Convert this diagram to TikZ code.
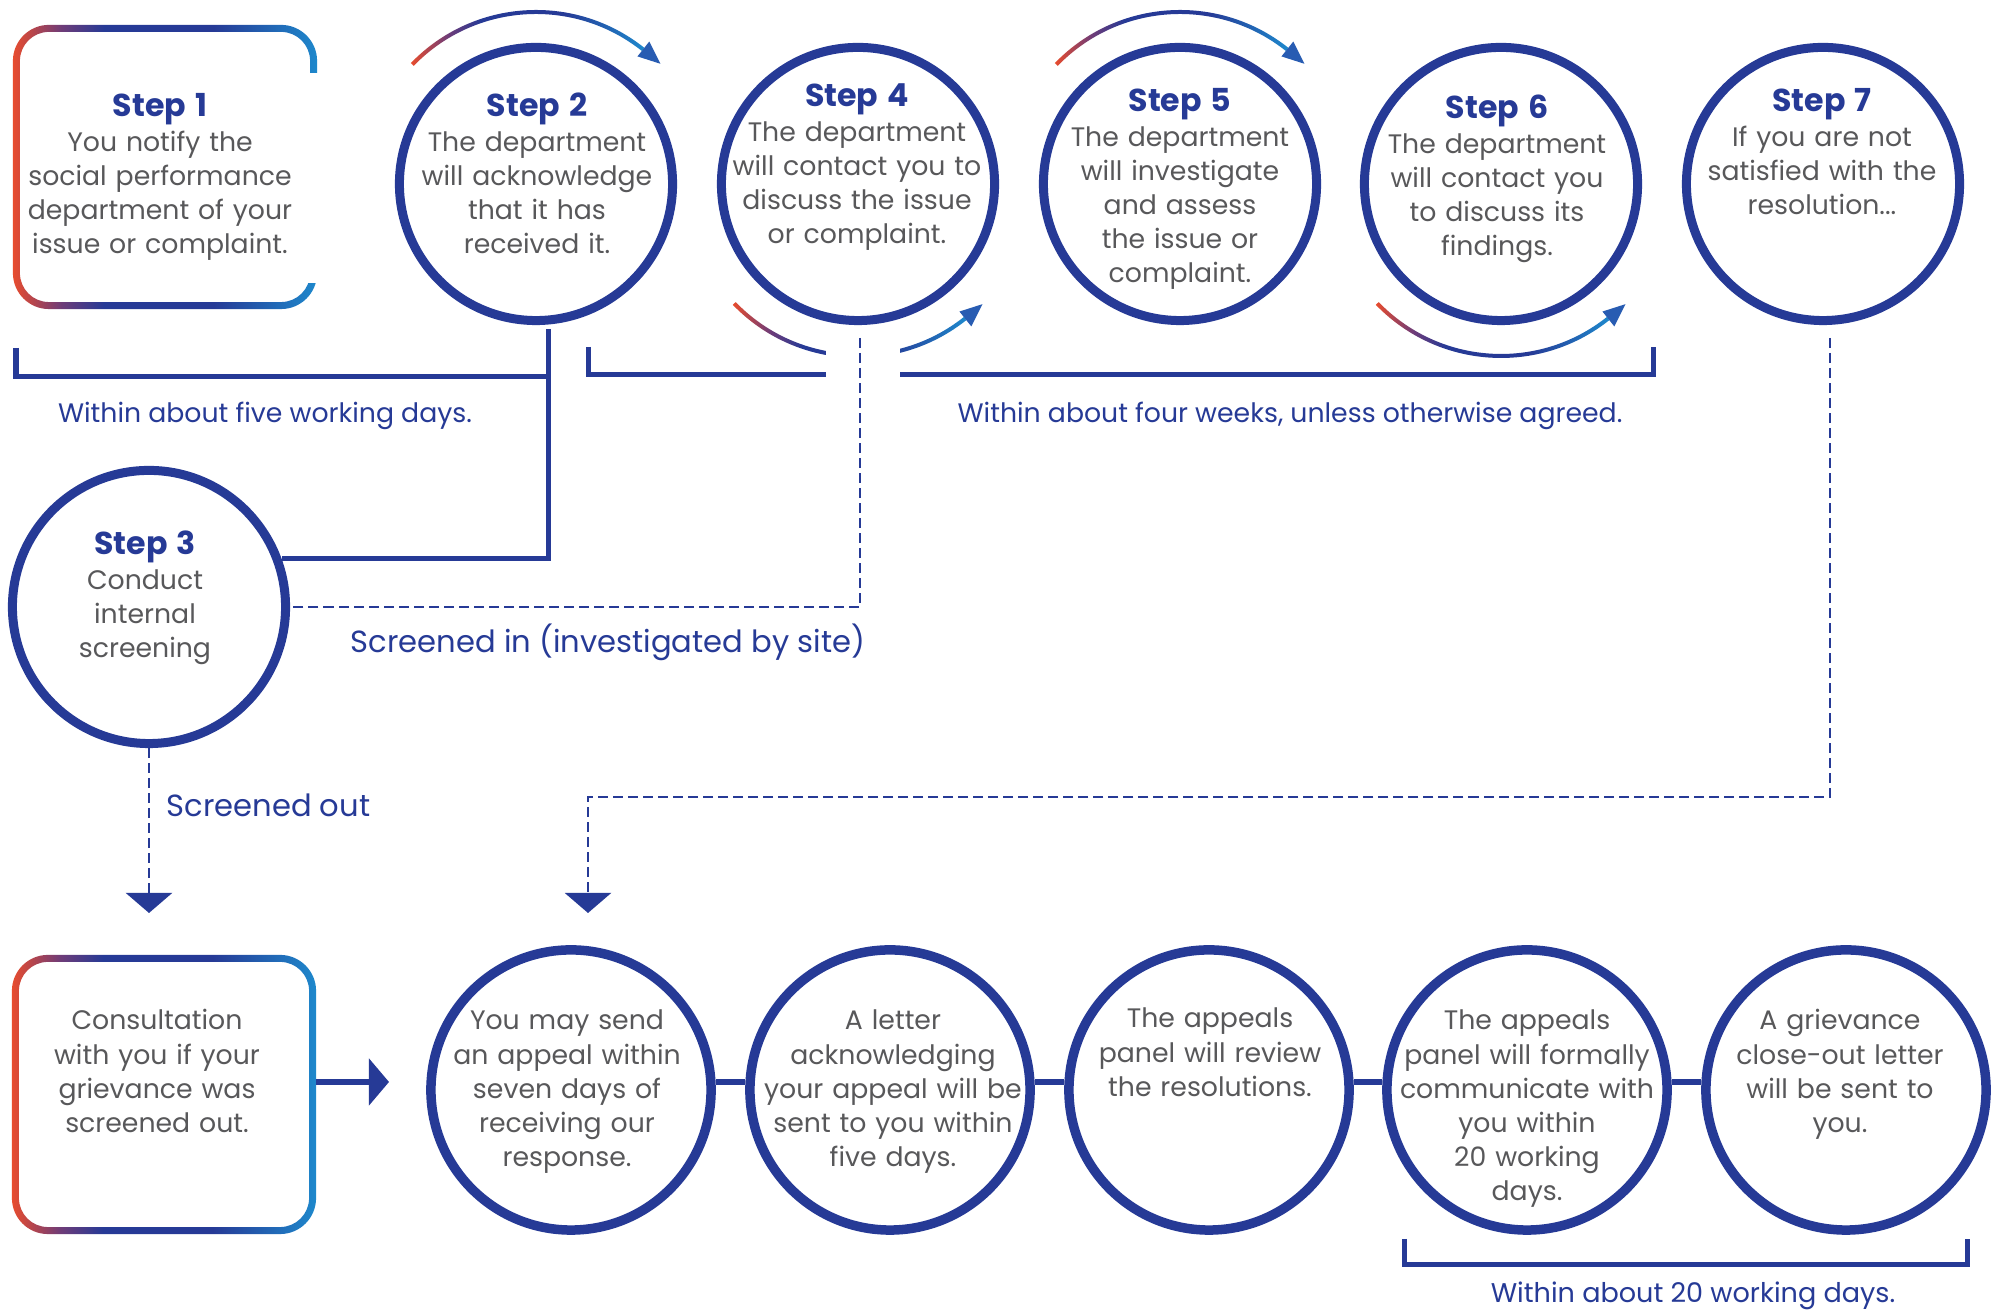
\documentclass[tikz,border=0pt]{standalone}
\usepackage{fontspec}
\setmainfont{Poppins}
\usetikzlibrary{calc}
\usetikzlibrary{arrows.meta}

\definecolor{navy}{RGB}{38,58,150}
\definecolor{txtgrey}{RGB}{88,88,90}
\definecolor{gred}{RGB}{232,76,46}
\definecolor{gpurple}{RGB}{110,60,120}
\definecolor{gblue}{RGB}{30,136,204}
\definecolor{tipblue}{RGB}{40,92,178}

\pgfdeclarehorizontalshading{warmcool}{100bp}{color(0bp)=(gred); color(25bp)=(gred); color(33bp)=(gpurple); color(40bp)=(navy); color(58bp)=(navy); color(75bp)=(gblue); color(100bp)=(gblue)}

\newcommand{\txtfont}{\fontsize{7.6}{9.7}\selectfont}
\newcommand{\stitle}[1]{{\color{navy}\bfseries\fontsize{9}{9.7}\selectfont #1}}

\begin{document}
\begin{tikzpicture}[x=0.01cm, y=0.01cm,
  stepring/.style={circle, draw=navy, line width=0.09cm, minimum size=2.73cm, inner sep=0},
  appealring/.style={circle, draw=navy, line width=0.095cm, minimum size=2.8cm, inner sep=0},
  boxshape/.style={rectangle, inner sep=0, outer sep=0, minimum width=3.04cm},
  steptext/.style={align=center, text width=3.2cm, inner sep=0, anchor=base, text=txtgrey, font=\txtfont},
  timetext/.style={inner sep=0, anchor=base, text=navy, font=\txtfont},
  bracketline/.style={draw=navy, line width=0.05cm},
  linkline/.style={draw=navy, line width=0.06cm},
  dashline/.style={draw=navy, line width=0.025cm, dash pattern=on 0.1cm off 0.05cm},
  droptip/.style={-{Triangle[length=0.2cm, width=0.46cm]}}]%
  \path[use as bounding box, fill=white] (0,0) rectangle (2008,1313);

  % first row
  \node[boxshape, minimum height=2.84cm] (s1) at (165,1146) {};
  \node[stepring] (s2) at (536,1129) {};
  \node[stepring] (s4) at (858,1129) {};
  \node[stepring] (s5) at (1180,1129) {};
  \node[stepring] (s6) at (1501,1129) {};
  \node[stepring] (s7) at (1823,1129) {};
  \node[stepring] (s3) at (149,706) {};

  \shade[shading=warmcool, even odd rule, rounded corners=0.36cm]
    (s1.south west) rectangle (s1.north east)
    [rounded corners=0.29cm]
    ([shift={(7,7)}]s1.south west) rectangle ([shift={(-7,-7)}]s1.north east);
  \fill[white] (306,1030) rectangle (322,1240);

  \foreach \c/\a/\b/\t in {s2/136/51.5/44, s5/136/51.5/44, s4/-136/-51.5/-44, s6/-136/-51.5/-44} {
    \shade[shading=warmcool]
      ($(\c)+(\a:174)$) arc[start angle=\a, end angle=\b, radius=174]
      --
      ($(\c)+(\b:170)$) arc[start angle=\b, end angle=\a, radius=170]
      -- cycle;
    \fill[tipblue]
      ($(\c)+(\t:173)$) -- ($(\c)+(\b:182)$) -- ($(\c)+(\b:163)$) -- cycle;
  }
  \fill[white] (826,948) rectangle (900,974);

  \node[steptext] (t1) at (160,1196) {\stitle{Step 1}\\You notify the\\social performance\\department of your\\issue or complaint.};
  \node[steptext] (t2) at (537,1196) {\stitle{Step 2}\\The department\\will acknowledge\\that it has\\received it.};
  \node[steptext] (t4) at (857,1206) {\stitle{Step 4}\\The department\\will contact you to\\discuss the issue\\or complaint.};
  \node[steptext] (t5) at (1180,1201) {\stitle{Step 5}\\The department\\will investigate\\and assess\\the issue or\\complaint.};
  \node[steptext] (t6) at (1497,1194) {\stitle{Step 6}\\The department\\will contact you\\to discuss its\\findings.};
  \node[steptext] (t7) at (1822,1201) {\stitle{Step 7}\\If you are not\\satisfied with the\\resolution...};
  \node[steptext] (t3) at (145,758) {\stitle{Step 3}\\Conduct\\internal\\screening};

  % time brackets
  \coordinate (s2drop) at (548,984);
  \coordinate (s4drop) at (860,975);
  \coordinate (s7drop) at (1830,975);
  \draw[bracketline] (16,965) |- (548,936);
  \draw[bracketline] (s2drop) |- (s3.20);
  \draw[bracketline] (588,966) |- (826,938);
  \draw[bracketline] (900,938) -| (1653,966);
  \node[timetext] (l1) at (265,890) {Within about five working days.};
  \node[timetext] (l2) at (1290,890) {Within about four weeks, unless otherwise agreed.};

  % screening
  \coordinate (outtip) at (149,400);
  \coordinate (appealtip) at (588,400);
  \draw[dashline] (s4drop) |- (s3.east);
  \draw[dashline, droptip] (s3.south) -- (outtip);
  \draw[dashline, droptip] (s7drop) |- (588,516) -- (appealtip);
  \node[timetext, font=\fontsize{8.7}{10}\selectfont] (lin) at (608,660) {Screened in (investigated by site)};
  \node[timetext, anchor=base west, font=\fontsize{8.7}{10}\selectfont] (lout) at (166,496) {Screened out};

  % second row
  \node[boxshape, minimum height=2.79cm] (consult) at (164,218.5) {};
  \shade[shading=warmcool, even odd rule, rounded corners=0.36cm]
    (consult.south west) rectangle (consult.north east)
    [rounded corners=0.29cm]
    ([shift={(7,7)}]consult.south west) rectangle ([shift={(-7,-7)}]consult.north east);
  \foreach \i/\x in {1/571, 2/890, 3/1209, 4/1527, 5/1846} {
    \node[appealring] (a\i) at (\x,223) {};
  }
  \coordinate (appealin) at (389,231);
  \draw[linkline, -{Triangle[length=0.2cm, width=0.46cm]}] (consult.east |- appealin) -- (appealin);
  \foreach \p/\q in {a1/a2, a2/a3, a3/a4, a4/a5} {
    \draw[linkline] (\p.3) -- (\q.177);
  }

  \node[steptext] (tc) at (157,283) {Consultation\\with you if your\\grievance was\\screened out.};
  \node[steptext] (ta1) at (567,283) {You may send\\an appeal within\\seven days of\\receiving our\\response.};
  \node[steptext] (ta2) at (893,283) {A letter\\acknowledging\\your appeal will be\\sent to you within\\five days.};
  \node[steptext] (ta3) at (1210,285) {The appeals\\panel will review\\the resolutions.};
  \node[steptext] (ta4) at (1527,283) {The appeals\\panel will formally\\communicate with\\you within\\20 working\\days.};
  \node[steptext] (ta5) at (1840,283) {A grievance\\close-out letter\\will be sent to\\you.};

  \draw[bracketline] (1404,74) |- (1967,48) -- (1967,74);
  \node[timetext, font=\fontsize{7.7}{9.7}\selectfont] (l3) at (1693,10) {Within about 20 working days.};
\end{tikzpicture}
\end{document}
